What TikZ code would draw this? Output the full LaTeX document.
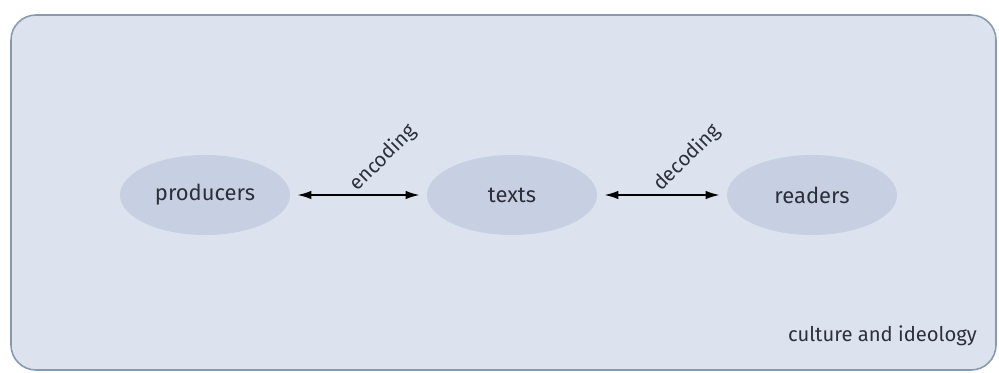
\documentclass[tikz,border=0pt]{standalone}
\usepackage{fontspec}
\setmainfont{Fira Sans}
\usetikzlibrary{arrows.meta,shapes.geometric}

\definecolor{boxfill}{RGB}{221,227,238}
\definecolor{boxline}{RGB}{135,155,176}
\definecolor{ellfill}{RGB}{198,208,226}
\definecolor{inkgray}{RGB}{45,47,58}

\begin{document}
\begin{tikzpicture}[
        party/.style={ellipse,minimum width=3.4cm,minimum height=1.6cm,fill=ellfill,text=inkgray,font=\fontsize{12.5}{14}\selectfont},
        link/.style={{Latex[length=2.8mm,width=1.7mm]}-{Latex[length=2.8mm,width=1.7mm]},line width=1pt,shorten <=1.4mm,shorten >=1.4mm},
        linklabel/.style={midway,anchor=center,xshift=0.5cm,yshift=0.74cm,rotate=45,text=inkgray,font=\fontsize{11.5}{13}\selectfont}
    ]
        \useasboundingbox (0,0) rectangle (19.98,7.44);

        % 1. Outer Box (culture and ideology)
        \node (frame) at (10.07,3.59) [minimum width=19.7cm,minimum height=7.1cm,rounded corners=0.5cm,fill=boxfill,draw=boxline,line width=0.9pt] {};
        \node (culture) at (19.66,0.72) [anchor=east,text=inkgray,font=\fontsize{11.5}{13}\selectfont] {culture and ideology};

        % 2. Producers, Texts, Readers
        \node (producers) at (4.1,3.54) [party] {producers};
        \node (texts) [right of = producers, party, node distance = 6.14cm] {texts};
        \node (readers) [right of = texts, party, node distance = 6.0cm] {readers};

        % 3. Encoding and Decoding
        \draw[link] (producers.east) -- (texts.west) node[linklabel] {encoding};
        \draw[link] (texts.east) -- (readers.west) node[linklabel] {decoding};

    \end{tikzpicture}
\end{document}
